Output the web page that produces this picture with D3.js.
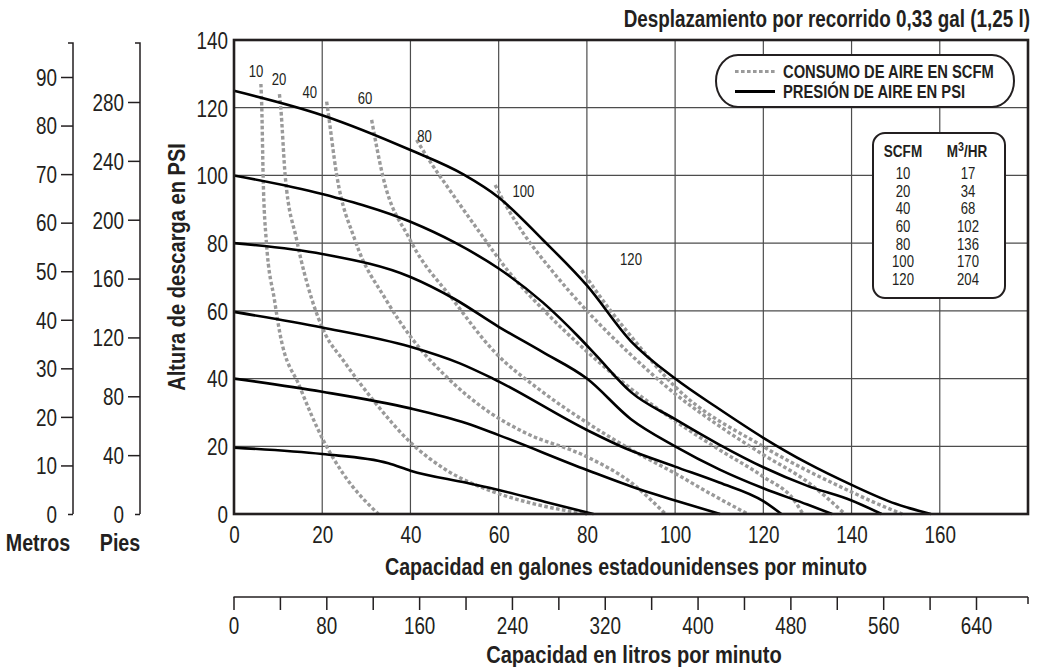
<!DOCTYPE html>
<html>
<head>
<meta charset="utf-8">
<script src="https://cdn.jsdelivr.net/npm/d3@7"></script>
<style>
    body { margin: 0; background: #fff; }
    svg text { font-family: "Liberation Sans", Arial, sans-serif; fill: #231f20; }
    .b { font-weight: bold; }
</style>
</head>
<body>
<div id="chart"></div>
<script>
// ticks
let gpmTicks = [0, 20, 40, 60, 80, 100, 120, 140, 160],
    psiTicks = [0, 20, 40, 60, 80, 100, 120, 140],
    litroTicks = [0, 40, 80, 120, 160, 200, 240, 280, 320, 360, 400, 440, 480, 520, 560, 600, 640],
    litroLabels = [0, 80, 160, 240, 320, 400, 480, 560, 640],
    metrosTicks = [0, 10, 20, 30, 40, 50, 60, 70, 80, 90],
    piesTicks = [0, 40, 80, 120, 160, 200, 240, 280];

// air pressure curves (gpm, psi)
let psi20 = [[0, 19.6], [20, 17.7], [35, 15], [40, 12.8], [52.7, 9.2], [60, 7.1], [70.4, 3.6], [81.5, 0]];
let psi40 = [[0, 40], [20, 36.1], [40, 31.2], [52.7, 26.8], [60, 23.3], [80, 13], [91.9, 7.3], [100, 4], [110.2, 0]];
let psi60 = [[0, 59.7], [20, 55.1], [40, 49.4], [51.2, 44.5], [58.7, 40], [80, 24.8], [88.7, 19.4], [100, 14], [110, 9.3], [120, 3.8], [124.1, 0]];
let psi80 = [[0, 80], [20, 76.8], [40, 70], [50, 63.5], [60, 55.3], [70, 47.8], [80, 40], [90, 28], [100, 20], [110, 13.2], [120, 7.6], [130, 2.8], [135.6, 0]];
let psi100 = [[0, 100], [20, 94.5], [40, 86.3], [50, 80.2], [60, 72.5], [70, 62.5], [78, 52.5], [82, 47], [90, 36], [100, 28], [110, 20.5], [120, 13.8], [130, 8.3], [140, 4], [146.8, 0]];
let psi125 = [[0, 125], [20, 117.8], [40, 107.5], [52, 100.3], [60, 93.5], [70, 81], [80, 67.5], [90, 51], [100, 40], [110, 31], [120, 22.5], [130, 15], [140, 8.6], [150, 3], [158, 0]];

// air consumption curves (gpm, psi)
let scfm10 = [[6.1, 127], [6.3, 120], [6.6, 100], [7.3, 81], [9.2, 63], [10.4, 53.4], [14.9, 37.6], [20.2, 21.9], [24.7, 12], [32.7, 0]];
let scfm20 = [[10.3, 124], [10.6, 120], [11.6, 100], [14.2, 81], [17.7, 63.2], [20.6, 53.4], [24.7, 45.5], [31.5, 33.7], [40.2, 20.9], [48.1, 13], [58.7, 6.6], [68, 3], [80, 0]];
let scfm40 = [[21, 121.8], [21.2, 120], [23.3, 100], [27.4, 81], [34.5, 63.2], [40.6, 51.4], [48.1, 40.6], [58.5, 29.5], [66, 24], [80, 16.9], [90.2, 9.1], [97.8, 0]];
let scfm60 = [[31.2, 116.4], [33.7, 100], [39.9, 81], [49.7, 63.2], [58.7, 48.4], [70, 36], [80, 27], [90, 19], [100, 12], [108, 6], [116.5, 0]];
let scfm80 = [[41.4, 110.5], [44.5, 104], [49, 95.5], [55.8, 83], [62, 72], [70, 60.5], [80, 48], [90, 37], [100, 27.5], [110, 19], [120, 11], [127, 4], [129, 0]];
let scfm100 = [[59.2, 97.2], [61.8, 90.8], [65.6, 82.9], [72, 72], [80, 60], [90, 47], [100, 35.5], [110, 26], [120, 17.5], [130, 9.5], [138.5, 0]];
let scfm120 = [[78.8, 72], [84.7, 61.2], [90, 52.5], [100, 37.6], [120, 19.9], [140, 6.5], [145, 3.5], [151.5, 0]];

let pressureCurves = [psi20, psi40, psi60, psi80, psi100, psi125];
let scfmCurves = [scfm10, scfm20, scfm40, scfm60, scfm80, scfm100, scfm120];

// table + curve labels
let scfmValues = [10, 20, 40, 60, 80, 100, 120],
    m3hrValues = [17, 34, 68, 102, 136, 170, 204],
    scfmLabelAt = [[5, 130.6], [10.2, 128.4], [17.2, 124.4], [29.7, 122.8], [43.2, 111.6], [65.6, 95.4], [90, 75.3]];

let svg = d3.select("#chart").append("svg")
    .attr("width", 1038)
    .attr("height", 667);

let x = d3.scaleLinear().domain([0, 180]).range([234, 1028]),
    y = d3.scaleLinear().domain([0, 140]).range([514, 40]),
    xl = d3.scaleLinear().domain([0, 640]).range([233.5, 976]),
    ym = d3.scaleLinear().domain([0, 90]).range([514, 77]),
    yp = d3.scaleLinear().domain([0, 280]).range([514, 102]);

//grid
let grid = svg.append("g").attr("class", "grid");
gpmTicks.slice(1).forEach(function (v) {
    grid.append("line")
        .attr("x1", x(v)).attr("x2", x(v))
        .attr("y1", y(0)).attr("y2", y(140))
        .attr("stroke", "#4d4d4d").attr("stroke-width", 1.2);
});
psiTicks.slice(1).forEach(function (v) {
    grid.append("line")
        .attr("x1", x(0)).attr("x2", x(180))
        .attr("y1", y(v)).attr("y2", y(v))
        .attr("stroke", "#4d4d4d").attr("stroke-width", 1.2);
});

//curves
let line = d3.line()
    .x(function (d) { return x(d[0]); })
    .y(function (d) { return y(d[1]); })
    .curve(d3.curveMonotoneX);

svg.append("g").selectAll("path")
    .data(scfmCurves)
    .enter()
    .append("path")
    .attr("d", line)
    .attr("fill", "none")
    .attr("stroke", "#9a9a9a")
    .attr("stroke-width", 3.4)
    .attr("stroke-dasharray", "3.6,2.4");

svg.append("g").selectAll("path")
    .data(pressureCurves)
    .enter()
    .append("path")
    .attr("d", line)
    .attr("fill", "none")
    .attr("stroke", "#000")
    .attr("stroke-width", 2.6);

svg.append("g").selectAll("text")
    .data(scfmValues)
    .enter()
    .append("text")
    .attr("x", function (d, i) { return x(scfmLabelAt[i][0]); })
    .attr("y", function (d, i) { return y(scfmLabelAt[i][1]) + 5.5; })
    .attr("text-anchor", "middle")
    .style("font-size", "16px")
    .text(function (d) { return d; });

//plot border
svg.append("rect")
    .attr("x", x(0)).attr("y", y(140))
    .attr("width", x(180) - x(0)).attr("height", y(0) - y(140))
    .attr("fill", "none").attr("stroke", "#231f20").attr("stroke-width", 2.6);

//legend
let leg = svg.append("g").attr("class", "legend");
leg.append("rect")
    .attr("x", 716).attr("y", 55).attr("width", 298).attr("height", 52)
    .attr("rx", 22).attr("ry", 26)
    .attr("fill", "#fff").attr("stroke", "#231f20").attr("stroke-width", 2);
leg.append("line")
    .attr("x1", 735).attr("x2", 775).attr("y1", 71.5).attr("y2", 71.5)
    .attr("stroke", "#9a9a9a").attr("stroke-width", 3).attr("stroke-dasharray", "3.6,2.4");
leg.append("line")
    .attr("x1", 735).attr("x2", 775).attr("y1", 91.5).attr("y2", 91.5)
    .attr("stroke", "#000").attr("stroke-width", 3);
leg.append("text").attr("class", "b")
    .attr("x", 783).attr("y", 78).style("font-size", "18px")
    .text("CONSUMO DE AIRE EN SCFM");
leg.append("text").attr("class", "b")
    .attr("x", 783).attr("y", 98).style("font-size", "18px")
    .text("PRESIÓN DE AIRE EN PSI");

//table
let tab = svg.append("g").attr("class", "table");
tab.append("rect")
    .attr("x", 873).attr("y", 133).attr("width", 132).attr("height", 165)
    .attr("rx", 12)
    .attr("fill", "#fff").attr("stroke", "#231f20").attr("stroke-width", 2);
tab.append("text").attr("class", "b")
    .attr("x", 903).attr("y", 157).attr("text-anchor", "middle").style("font-size", "16.5px")
    .text("SCFM");
let hdr = tab.append("text").attr("class", "b")
    .attr("x", 967).attr("y", 157).attr("text-anchor", "middle").style("font-size", "16.5px");
hdr.append("tspan").text("M");
hdr.append("tspan").attr("dy", -6).style("font-size", "13px").text("3");
hdr.append("tspan").attr("dy", 6).text("/HR");
tab.selectAll(".row1")
    .data(scfmValues)
    .enter()
    .append("text")
    .attr("x", 903)
    .attr("y", function (d, i) { return 179 + i * 17.67; })
    .attr("text-anchor", "middle").style("font-size", "16px")
    .text(function (d) { return d; });
tab.selectAll(".row2")
    .data(m3hrValues)
    .enter()
    .append("text")
    .attr("x", 968)
    .attr("y", function (d, i) { return 179 + i * 17.67; })
    .attr("text-anchor", "middle").style("font-size", "16px")
    .text(function (d) { return d; });

//main axes labels
let yAxis = svg.append("g")
    .attr("transform", "translate(" + x(0) + ",0)")
    .call(d3.axisLeft(y).tickValues(psiTicks).tickSize(0).tickPadding(6));
yAxis.select(".domain").remove();
yAxis.selectAll("text").style("font-size", "23px").attr("dy", "0.36em");

let xAxis = svg.append("g")
    .attr("transform", "translate(0," + y(0) + ")")
    .call(d3.axisBottom(x).tickValues(gpmTicks).tickSize(0).tickPadding(13));
xAxis.select(".domain").remove();
xAxis.selectAll("text").style("font-size", "23px").attr("dy", "0.71em");

//litres axis
let lAxis = svg.append("g")
    .attr("transform", "translate(0,597)")
    .call(d3.axisBottom(xl).tickValues(litroTicks).tickSize(13).tickSizeOuter(0)
        .tickFormat(function (d) { return litroLabels.indexOf(d) >= 0 ? d : ""; }));
lAxis.select(".domain").remove();
lAxis.append("line").attr("x1", xl(0)).attr("x2", 1028).attr("y1", 0).attr("y2", 0)
    .attr("stroke", "#231f20").attr("stroke-width", 1.5);
lAxis.append("line").attr("x1", 1028).attr("x2", 1028).attr("y1", 0).attr("y2", 7)
    .attr("stroke", "#231f20").attr("stroke-width", 1.5);
lAxis.selectAll(".tick line").attr("stroke", "#231f20").attr("stroke-width", 1.5);
lAxis.selectAll("text").style("font-size", "23px").attr("y", 21).attr("dy", "0.71em");

//metros + pies axes
function sideAxis(scale, ticks, xpos) {
    let g = svg.append("g")
        .attr("transform", "translate(" + xpos + ",0)")
        .call(d3.axisLeft(scale).tickValues(ticks).tickSize(12).tickPadding(4));
    g.select(".domain").remove();
    g.selectAll(".tick line").attr("stroke", "#231f20").attr("stroke-width", 1.5)
        .attr("x2", function (d) { return d === 0 ? -5 : -12; });
    g.selectAll("text").style("font-size", "23px").attr("dy", "0.36em");
    g.append("path")
        .attr("d", "M-5,43H0V" + scale(0))
        .attr("fill", "none").attr("stroke", "#231f20").attr("stroke-width", 1.5);
    return g;
}
sideAxis(ym, metrosTicks, 73);
sideAxis(yp, piesTicks, 140);

//titles
svg.append("text").attr("class", "b")
    .attr("x", 38).attr("y", 551).attr("text-anchor", "middle").style("font-size", "24px")
    .text("Metros");
svg.append("text").attr("class", "b")
    .attr("x", 120).attr("y", 551).attr("text-anchor", "middle").style("font-size", "24px")
    .text("Pies");
svg.append("text").attr("class", "b")
    .attr("transform", "translate(185,267) rotate(-90)")
    .attr("text-anchor", "middle").style("font-size", "24.5px")
    .text("Altura de descarga en PSI");
svg.append("text").attr("class", "b")
    .attr("x", 626).attr("y", 575).attr("text-anchor", "middle").style("font-size", "24px")
    .text("Capacidad en galones estadounidenses por minuto");
svg.append("text").attr("class", "b")
    .attr("x", 634).attr("y", 663).attr("text-anchor", "middle").style("font-size", "24.5px")
    .text("Capacidad en litros por minuto");
svg.append("text").attr("class", "b")
    .attr("x", 1030).attr("y", 27).attr("text-anchor", "end").style("font-size", "23px")
    .text("Desplazamiento por recorrido 0,33 gal (1,25 l)");

//condensed look: squeeze every text horizontally
svg.selectAll("text").each(function () {
    let t = d3.select(this),
        tx = +t.attr("x") || 0,
        tr = t.attr("transform") || "";
    t.attr("x", tx / 0.82).attr("transform", tr + " scale(0.82,1)");
});
</script>
</body>
</html>
